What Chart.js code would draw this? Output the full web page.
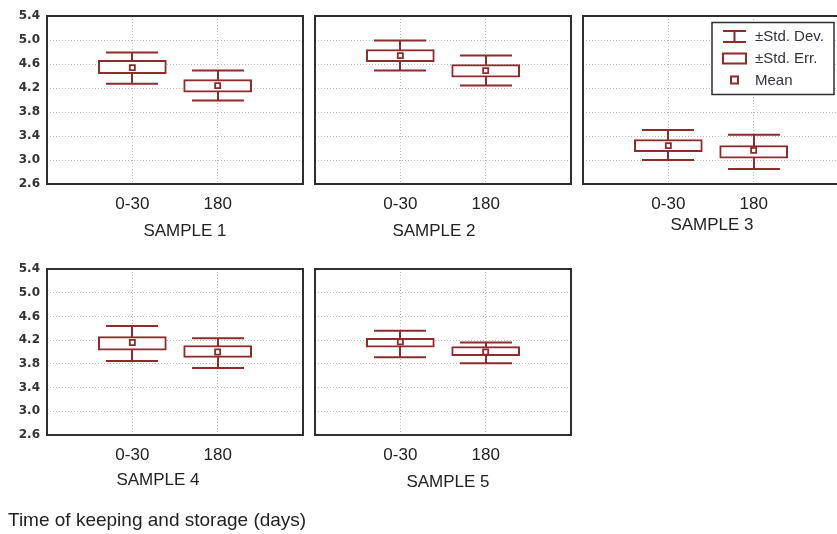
<!DOCTYPE html>
<html><head><meta charset="utf-8">
<script src="https://cdn.jsdelivr.net/npm/chart.js@4.4.1/dist/chart.umd.min.js"></script>
<style>
html,body{margin:0;padding:0;background:#fff;width:837px;height:534px;overflow:hidden;position:relative;}
canvas{position:absolute;}
.t{position:absolute;font-family:"Liberation Sans",Arial,sans-serif;color:#222;white-space:nowrap;line-height:1;transform:translate(-50%,-50%);}
.foot{position:absolute;font-family:"Liberation Sans",Arial,sans-serif;color:#222;white-space:nowrap;line-height:1;}
</style></head><body>
<script>
// ---- data ----
const categories = ['0-30', '180'];
const sampleNames = ['SAMPLE 1', 'SAMPLE 2', 'SAMPLE 3', 'SAMPLE 4', 'SAMPLE 5'];
const yTickValues = [2.6, 3.0, 3.4, 3.8, 4.2, 4.6, 5.0, 5.4];
const meanVals = [[4.54, 4.24], [4.74, 4.49], [3.24, 3.16], [4.16, 4.00], [4.17, 4.00]];
const seLow    = [[4.44, 4.13], [4.64, 4.38], [3.14, 3.03], [4.03, 3.91], [4.08, 3.94]];
const seHigh   = [[4.66, 4.34], [4.84, 4.59], [3.34, 3.24], [4.26, 4.11], [4.23, 4.09]];
const sdLow    = [[4.27, 3.99], [4.49, 4.24], [3.00, 2.85], [3.85, 3.73], [3.91, 3.81]];
const sdHigh   = [[4.79, 4.49], [4.99, 4.74], [3.50, 3.42], [4.44, 4.23], [4.36, 4.16]];
const legendLabels = ['±Std. Dev.', '±Std. Err.', 'Mean'];
const xAxisTitle = 'Time of keeping and storage (days)';

// ---- layout / style ----
const RED = '#8e2b2b';
const GRID = '#b9b9b9';
const FRAME = '#2e2e2e';
const FONT = '"Liberation Sans", Arial, sans-serif';
const layout = [
  {left: 0,   top: 0,   yLabels: true,  xh: 66, title: [185, 230]},
  {left: 268, top: 0,   yLabels: false, xh: 66, title: [434, 230]},
  {left: 536, top: 0,   yLabels: false, xh: 66, title: [712, 223.5], legend: true},
  {left: 0,   top: 253, yLabels: true,  xh: 68, title: [158, 479]},
  {left: 268, top: 253, yLabels: false, xh: 68, title: [448, 480.5]}
];

const framePlugin = {
  id: 'frame',
  afterDatasetsDraw(chart) {
    const {ctx, chartArea: a} = chart;
    ctx.save();
    ctx.strokeStyle = FRAME; ctx.lineWidth = 2;
    ctx.strokeRect(a.left, a.top, a.right - a.left, a.bottom - a.top);
    ctx.restore();
  }
};

function whiskerPlugin(s) {
  return {
    id: 'whiskers',
    beforeDatasetsDraw(chart) {
      const {ctx, scales: {x, y}} = chart;
      ctx.save();
      ctx.strokeStyle = RED; ctx.lineWidth = 2;
      const hw = 26;
      categories.forEach((c, i) => {
        const px = Math.round(x.getPixelForValue(i + 1));
        const t = y.getPixelForValue(sdHigh[s][i]);
        const b = y.getPixelForValue(sdLow[s][i]);
        ctx.beginPath();
        ctx.moveTo(px, t); ctx.lineTo(px, b);
        ctx.moveTo(px - hw, t); ctx.lineTo(px + hw, t);
        ctx.moveTo(px - hw, b); ctx.lineTo(px + hw, b);
        ctx.stroke();
      });
      ctx.restore();
    }
  };
}

const legendPlugin = {
  id: 'boxLegend',
  afterDraw(chart) {
    const {ctx, chartArea: a} = chart;
    const L = a.left + 129, T = a.top + 6.5, W = 122, H = 72;
    ctx.save();
    ctx.fillStyle = '#fff';
    ctx.fillRect(L, T, W, H);
    ctx.strokeStyle = FRAME; ctx.lineWidth = 1.5;
    ctx.strokeRect(L, T, W, H);
    ctx.strokeStyle = RED; ctx.lineWidth = 2;
    const ix = L + 11, iw = 23;
    ctx.beginPath();
    ctx.moveTo(ix, T + 8.5); ctx.lineTo(ix + iw, T + 8.5);
    ctx.moveTo(ix, T + 19.5); ctx.lineTo(ix + iw, T + 19.5);
    ctx.moveTo(ix + iw / 2, T + 8.5); ctx.lineTo(ix + iw / 2, T + 19.5);
    ctx.stroke();
    ctx.strokeRect(ix, T + 31, iw, 10);
    ctx.strokeRect(ix + 8, T + 54, 7, 7);
    ctx.fillStyle = '#30323e';
    ctx.font = '15px ' + FONT;
    ctx.textBaseline = 'middle';
    const ys = [T + 14.5, T + 36, T + 58];
    legendLabels.forEach((lab, k) => ctx.fillText(lab, L + 43, ys[k]));
    ctx.restore();
  }
};

Chart.defaults.font.family = FONT;

layout.forEach((P, s) => {
  const cv = document.createElement('canvas');
  cv.width = 310; cv.height = 250;
  cv.style.left = P.left + 'px'; cv.style.top = P.top + 'px';
  cv.style.width = '310px'; cv.style.height = '250px';
  document.body.appendChild(cv);

  const plugins = [whiskerPlugin(s), framePlugin];
  if (P.legend) plugins.push(legendPlugin);

  new Chart(cv, {
    type: 'bar',
    data: {
      datasets: [
        {
          type: 'scatter',
          label: 'Mean',
          data: categories.map((c, i) => ({x: i + 1, y: meanVals[s][i]})),
          pointStyle: 'rect', pointRadius: 3.6, pointBorderWidth: 1.8,
          pointBackgroundColor: '#fff', pointBorderColor: RED,
          order: 0
        },
        {
          type: 'bar',
          label: '±Std. Err.',
          data: categories.map((c, i) => ({x: i + 1, y: [seLow[s][i], seHigh[s][i]]})),
          backgroundColor: '#fff', borderColor: RED, borderWidth: 2,
          borderSkipped: false, barThickness: 68,
          order: 1
        }
      ]
    },
    options: {
      responsive: false, animation: false, events: [],
      devicePixelRatio: 1,
      layout: {padding: {left: 0, top: 16, right: 7, bottom: 0}},
      plugins: {legend: {display: false}, tooltip: {enabled: false}},
      scales: {
        x: {
          type: 'linear', min: 0, max: 3, offset: false,
          afterBuildTicks: sc => { sc.ticks = categories.map((c, i) => ({value: i + 1})); },
          ticks: {
            callback: v => categories[Math.round(v) - 1] ?? '',
            font: {size: 17}, color: '#222', padding: 10,
            maxRotation: 0, autoSkip: false
          },
          grid: {color: GRID, drawTicks: false, lineWidth: 1, offset: false},
          border: {display: false, dash: [1, 2]},
          afterFit: sc => { sc.height = P.xh; }
        },
        y: {
          type: 'linear', min: 2.6, max: 5.4,
          afterBuildTicks: sc => { sc.ticks = yTickValues.map(v => ({value: v})); },
          ticks: {
            display: P.yLabels,
            callback: v => Number(v).toFixed(1),
            font: {family: '"DejaVu Sans", sans-serif', weight: 'bold', size: 12},
            color: '#333', padding: 7
          },
          grid: {
            color: ctx => (ctx.tick && (Math.abs(ctx.tick.value - 2.6) < 1e-6 || Math.abs(ctx.tick.value - 5.4) < 1e-6)) ? 'rgba(0,0,0,0)' : GRID,
            drawTicks: false, lineWidth: 1, offset: false
          },
          border: {display: false, dash: [1, 2]},
          afterFit: sc => { sc.width = 47; }
        }
      }
    },
    plugins
  });

  const t = document.createElement('div');
  t.className = 't';
  t.style.left = P.title[0] + 'px'; t.style.top = P.title[1] + 'px';
  t.style.fontSize = '17px';
  t.textContent = sampleNames[s];
  document.body.appendChild(t);
});

const f = document.createElement('div');
f.className = 'foot';
f.style.left = '8px'; f.style.top = '510px'; f.style.fontSize = '19px';
f.textContent = xAxisTitle;
document.body.appendChild(f);
</script>
</body></html>
